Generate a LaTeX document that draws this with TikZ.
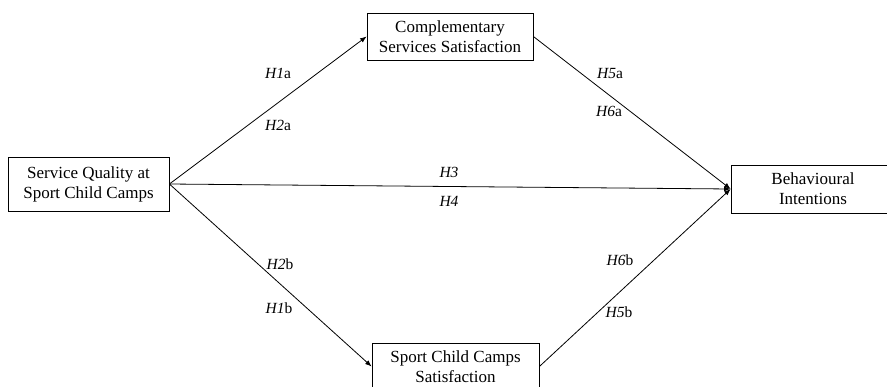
\documentclass[tikz,border=0pt]{standalone}
\usepackage{fontspec}
\setmainfont{Liberation Serif}
\usetikzlibrary{arrows.meta}
\begin{document}
\begin{tikzpicture}[x=1pt,y=-1pt,
  boxnode/.style={draw, line width=0.8pt, inner sep=0pt, align=center,
    font=\fontsize{17}{20}\selectfont},
  hyp/.style={inner sep=0pt, font=\fontsize{15.5}{18}\selectfont},
  link/.style={line width=0.8pt, -{Latex[length=6.5pt,width=5pt]}}]
\useasboundingbox (0,0) rectangle (887,386);
\fill[white] (0,0) rectangle (887,386);
\node[boxnode, minimum width=161pt, minimum height=54pt] (sq) at (88.5,184) {Service Quality at\\Sport Child Camps};
\node[boxnode, minimum width=166pt, minimum height=47pt] (css) at (450,36.5) {Complementary\\Services Satisfaction};
\node[boxnode, minimum width=164pt, minimum height=48pt] (bi) at (813,189) {Behavioural\\Intentions};
\node[boxnode, minimum width=167pt, minimum height=47pt] (scs) at (455.5,366.5) {Sport Child Camps\\Satisfaction};
\draw[link] (sq.east) -- (css.west);
\draw[link] (sq.east) -- (scs.west);
\draw[link] (sq.east) -- (bi.west);
\draw[link] (css.east) -- (bi.west);
\draw[link] (scs.east) -- (bi.west);
\node[hyp] (h1a) at (278,73) {\textit{H1}a};
\node[hyp] (h2a) at (278,125) {\textit{H2}a};
\node[hyp] (h5a) at (610,73) {\textit{H5}a};
\node[hyp] (h6a) at (609,111) {\textit{H6}a};
\node[hyp] (h3) at (449,172) {\textit{H3}};
\node[hyp] (h4) at (449,201) {\textit{H4}};
\node[hyp] (h2b) at (280,264) {\textit{H2}b};
\node[hyp] (h1b) at (279,308) {\textit{H1}b};
\node[hyp] (h6b) at (620,260) {\textit{H6}b};
\node[hyp] (h5b) at (619,312) {\textit{H5}b};
\end{tikzpicture}
\end{document}
